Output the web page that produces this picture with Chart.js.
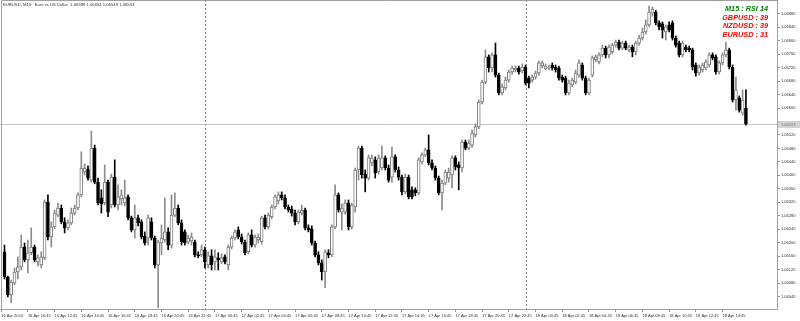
<!DOCTYPE html>
<html lang="en">
<head>
<meta charset="UTF-8">
<title>EURUSD, M15</title>
<script src="https://cdn.jsdelivr.net/npm/chart.js"></script>
<style>
  html, body { margin: 0; padding: 0; background: #fff; }
  #wrap { width: 800px; height: 321px; }
</style>
</head>
<body>
<div id="wrap"><canvas id="chartCandles" width="800" height="321"></canvas></div>
<script>
// M15 bars, 16 Apr 09:00 .. 18 Apr 16:30
const opens = [
  1.06173,1.06098,1.06045,1.06080,1.06113,1.06128,1.06187,1.06149,1.06170,1.06187,
  1.06143,1.06134,1.06155,1.06321,1.06217,1.06247,1.06282,1.06303,1.06262,1.06244,
  1.06259,1.06288,1.06303,1.06342,1.06410,1.06419,1.06386,1.06481,1.06380,1.06333,
  1.06318,1.06380,1.06312,1.06395,1.06312,1.06330,1.06318,1.06336,1.06274,1.06238,
  1.06274,1.06262,1.06220,1.06214,1.06262,1.06214,1.06134,1.06199,1.06208,1.06232,
  1.06193,1.06282,1.06303,1.06259,1.06232,1.06202,1.06205,1.06202,1.06164,1.06164,
  1.06179,1.06134,1.06161,1.06143,1.06155,1.06143,1.06158,1.06134,1.06187,1.06214,
  1.06238,1.06217,1.06202,1.06173,1.06223,1.06193,1.06208,1.06202,1.06274,1.06247,
  1.06277,1.06306,1.06324,1.06342,1.06333,1.06306,1.06300,1.06288,1.06262,1.06288,
  1.06297,1.06244,1.06241,1.06199,1.06164,1.06140,1.06113,1.06170,1.06164,1.06247,
  1.06342,1.06291,1.06291,1.06318,1.06247,1.06306,1.06416,1.06481,1.06404,1.06392,
  1.06437,1.06446,1.06410,1.06422,1.06452,1.06422,1.06395,1.06455,1.06416,1.06395,
  1.06351,1.06395,1.06357,1.06357,1.06348,1.06440,1.06461,1.06476,1.06437,1.06422,
  1.06392,1.06348,1.06377,1.06392,1.06401,1.06452,1.06431,1.06422,1.06499,1.06481,
  1.06490,1.06520,1.06544,1.06618,1.06677,1.06752,1.06719,1.06758,1.06698,1.06645,
  1.06660,1.06683,1.06707,1.06713,1.06719,1.06710,1.06722,1.06689,1.06683,1.06692,
  1.06704,1.06725,1.06716,1.06719,1.06728,1.06722,1.06719,1.06692,1.06689,1.06645,
  1.06669,1.06677,1.06698,1.06728,1.06689,1.06645,1.06698,1.06743,1.06737,1.06758,
  1.06778,1.06758,1.06767,1.06787,1.06796,1.06778,1.06793,1.06773,1.06781,1.06767,
  1.06793,1.06808,1.06826,1.06847,1.06882,1.06885,1.06853,1.06850,1.06826,1.06847,
  1.06853,1.06808,1.06793,1.06758,1.06781,1.06778,1.06773,1.06728,1.06704,1.06713,
  1.06719,1.06728,1.06758,1.06752,1.06707,1.06734,1.06758,1.06773,1.06722,1.06624,
  1.06630,1.06585,1.06599
];
const highs = [
  1.06193,1.06101,1.06089,1.06125,1.06158,1.06223,1.06199,1.06208,1.06244,1.06193,
  1.06164,1.06173,1.06327,1.06342,1.06262,1.06297,1.06318,1.06312,1.06274,1.06268,
  1.06303,1.06312,1.06348,1.06470,1.06434,1.06428,1.06532,1.06490,1.06392,1.06357,
  1.06431,1.06386,1.06404,1.06446,1.06372,1.06357,1.06386,1.06342,1.06279,1.06312,
  1.06282,1.06268,1.06232,1.06282,1.06274,1.06220,1.06208,1.06253,1.06333,1.06244,
  1.06342,1.06348,1.06312,1.06268,1.06238,1.06223,1.06229,1.06208,1.06173,1.06193,
  1.06187,1.06173,1.06179,1.06179,1.06170,1.06167,1.06164,1.06193,1.06220,1.06238,
  1.06247,1.06226,1.06208,1.06229,1.06238,1.06223,1.06226,1.06279,1.06282,1.06288,
  1.06312,1.06342,1.06351,1.06351,1.06342,1.06312,1.06309,1.06297,1.06297,1.06312,
  1.06303,1.06253,1.06250,1.06205,1.06173,1.06149,1.06179,1.06179,1.06253,1.06372,
  1.06348,1.06315,1.06327,1.06327,1.06318,1.06422,1.06487,1.06487,1.06416,1.06461,
  1.06461,1.06455,1.06461,1.06487,1.06458,1.06431,1.06484,1.06461,1.06425,1.06401,
  1.06404,1.06401,1.06366,1.06363,1.06452,1.06467,1.06481,1.06520,1.06446,1.06428,
  1.06398,1.06386,1.06416,1.06422,1.06458,1.06458,1.06440,1.06505,1.06505,1.06505,
  1.06535,1.06553,1.06624,1.06683,1.06773,1.06758,1.06764,1.06793,1.06704,1.06672,
  1.06692,1.06713,1.06725,1.06725,1.06725,1.06731,1.06728,1.06695,1.06698,1.06710,
  1.06740,1.06740,1.06731,1.06728,1.06734,1.06728,1.06725,1.06698,1.06695,1.06683,
  1.06689,1.06713,1.06743,1.06734,1.06695,1.06689,1.06755,1.06758,1.06764,1.06787,
  1.06784,1.06787,1.06793,1.06802,1.06802,1.06799,1.06799,1.06787,1.06787,1.06799,
  1.06817,1.06838,1.06862,1.06903,1.06900,1.06891,1.06859,1.06856,1.06847,1.06856,
  1.06859,1.06814,1.06799,1.06799,1.06787,1.06784,1.06778,1.06734,1.06728,1.06734,
  1.06743,1.06764,1.06764,1.06758,1.06740,1.06764,1.06796,1.06778,1.06728,1.06692,
  1.06636,1.06654,1.06654
];
const lows = [
  1.06092,1.06039,1.06021,1.06075,1.06092,1.06119,1.06143,1.06110,1.06164,1.06143,
  1.06131,1.06125,1.06149,1.06208,1.06187,1.06241,1.06277,1.06256,1.06229,1.06238,
  1.06253,1.06282,1.06297,1.06336,1.06401,1.06386,1.06380,1.06375,1.06312,1.06288,
  1.06312,1.06277,1.06303,1.06306,1.06297,1.06312,1.06309,1.06268,1.06232,1.06214,
  1.06250,1.06211,1.06193,1.06193,1.06208,1.06125,1.06006,1.06164,1.06202,1.06179,
  1.06184,1.06277,1.06253,1.06193,1.06193,1.06196,1.06193,1.06158,1.06155,1.06158,
  1.06125,1.06125,1.06119,1.06119,1.06119,1.06137,1.06137,1.06119,1.06181,1.06208,
  1.06211,1.06196,1.06164,1.06167,1.06187,1.06187,1.06199,1.06196,1.06241,1.06241,
  1.06271,1.06300,1.06315,1.06327,1.06300,1.06291,1.06279,1.06253,1.06256,1.06282,
  1.06238,1.06232,1.06193,1.06158,1.06134,1.06089,1.06066,1.06155,1.06158,1.06241,
  1.06291,1.06238,1.06285,1.06238,1.06241,1.06291,1.06386,1.06392,1.06351,1.06386,
  1.06428,1.06392,1.06404,1.06416,1.06416,1.06380,1.06380,1.06410,1.06386,1.06342,
  1.06345,1.06330,1.06330,1.06339,1.06342,1.06434,1.06455,1.06431,1.06416,1.06386,
  1.06342,1.06297,1.06372,1.06380,1.06363,1.06416,1.06357,1.06410,1.06476,1.06476,
  1.06484,1.06514,1.06538,1.06612,1.06672,1.06707,1.06707,1.06692,1.06639,1.06639,
  1.06654,1.06677,1.06701,1.06707,1.06701,1.06704,1.06669,1.06660,1.06677,1.06686,
  1.06698,1.06719,1.06713,1.06713,1.06713,1.06707,1.06683,1.06677,1.06639,1.06639,
  1.06663,1.06672,1.06692,1.06683,1.06639,1.06639,1.06692,1.06737,1.06731,1.06752,
  1.06749,1.06749,1.06761,1.06781,1.06773,1.06773,1.06773,1.06767,1.06752,1.06758,
  1.06787,1.06802,1.06820,1.06841,1.06873,1.06847,1.06832,1.06808,1.06802,1.06826,
  1.06802,1.06781,1.06752,1.06752,1.06767,1.06767,1.06713,1.06695,1.06698,1.06707,
  1.06713,1.06722,1.06743,1.06701,1.06701,1.06728,1.06752,1.06716,1.06618,1.06594,
  1.06588,1.06579,1.06549
];
const closes = [
  1.06098,1.06045,1.06083,1.06113,1.06128,1.06187,1.06149,1.06170,1.06187,1.06149,
  1.06155,1.06158,1.06321,1.06217,1.06247,1.06288,1.06303,1.06262,1.06244,1.06259,
  1.06288,1.06303,1.06342,1.06422,1.06422,1.06392,1.06481,1.06380,1.06318,1.06315,
  1.06380,1.06291,1.06395,1.06312,1.06336,1.06342,1.06333,1.06274,1.06238,1.06274,
  1.06259,1.06217,1.06199,1.06274,1.06214,1.06134,1.06202,1.06214,1.06232,1.06193,
  1.06282,1.06303,1.06259,1.06202,1.06199,1.06214,1.06217,1.06164,1.06161,1.06179,
  1.06143,1.06161,1.06134,1.06158,1.06149,1.06155,1.06143,1.06187,1.06214,1.06232,
  1.06217,1.06202,1.06170,1.06223,1.06193,1.06217,1.06217,1.06274,1.06247,1.06282,
  1.06306,1.06336,1.06342,1.06333,1.06306,1.06297,1.06288,1.06262,1.06291,1.06297,
  1.06244,1.06238,1.06199,1.06164,1.06140,1.06113,1.06173,1.06164,1.06247,1.06342,
  1.06297,1.06303,1.06318,1.06247,1.06312,1.06416,1.06481,1.06401,1.06392,1.06452,
  1.06452,1.06407,1.06452,1.06452,1.06422,1.06386,1.06455,1.06416,1.06395,1.06351,
  1.06395,1.06336,1.06336,1.06348,1.06446,1.06461,1.06476,1.06437,1.06422,1.06392,
  1.06348,1.06377,1.06410,1.06410,1.06452,1.06425,1.06422,1.06499,1.06481,1.06496,
  1.06526,1.06544,1.06618,1.06677,1.06752,1.06719,1.06758,1.06698,1.06645,1.06663,
  1.06683,1.06707,1.06719,1.06719,1.06707,1.06722,1.06674,1.06674,1.06692,1.06704,
  1.06734,1.06734,1.06725,1.06722,1.06719,1.06713,1.06689,1.06683,1.06645,1.06674,
  1.06683,1.06704,1.06734,1.06689,1.06645,1.06683,1.06749,1.06752,1.06758,1.06778,
  1.06758,1.06781,1.06787,1.06796,1.06778,1.06793,1.06778,1.06781,1.06767,1.06793,
  1.06808,1.06826,1.06847,1.06885,1.06894,1.06853,1.06841,1.06832,1.06841,1.06832,
  1.06808,1.06787,1.06758,1.06793,1.06773,1.06773,1.06722,1.06704,1.06722,1.06728,
  1.06737,1.06758,1.06749,1.06707,1.06734,1.06758,1.06773,1.06722,1.06624,1.06654,
  1.06594,1.06624,1.06553
];

// bar index of each midnight (day separators)
const daySeparators = [60, 156];

// time axis labels and the bar index they sit on
const xTickBars = [-1, 7, 15, 23, 31, 39, 47, 55, 63, 71, 79, 87, 95, 103,
                   111, 119, 127, 135, 143, 151, 159, 167, 175, 183, 191, 199, 207, 215];
const xTickLabels = ["16 Apr 2024", "16 Apr 10:45", "16 Apr 12:45", "16 Apr 14:45", "16 Apr 16:45",
  "16 Apr 18:45", "16 Apr 20:45", "16 Apr 22:45", "17 Apr 00:45", "17 Apr 02:45", "17 Apr 04:45",
  "17 Apr 06:45", "17 Apr 08:45", "17 Apr 10:45", "17 Apr 12:45", "17 Apr 14:45", "17 Apr 16:45",
  "17 Apr 18:45", "17 Apr 20:45", "17 Apr 22:45", "18 Apr 00:45", "18 Apr 02:45", "18 Apr 04:45",
  "18 Apr 06:45", "18 Apr 08:45", "18 Apr 10:45", "18 Apr 12:45", "18 Apr 14:45"];

// price axis labels (1.06560 is covered by the bid tag)
const yTicks = [1.06040, 1.06080, 1.06120, 1.06160, 1.06200, 1.06240, 1.06280, 1.06320, 1.06360,
  1.06400, 1.06440, 1.06480, 1.06520, 1.06600, 1.06640, 1.06680, 1.06720, 1.06760, 1.06800,
  1.06840, 1.06880];

const symbolName = "EURUSD";
const timeframe = "M15";
const symbolDesc = "Euro vs US Dollar";

const rsiTitle = "M15 : RSI 14";
const rsiPairs = ["GBPUSD", "NZDUSD", "EURUSD"];
const rsiValues = [39, 39, 31];

const lastBar = closes.length - 1;
const lastPrice = closes[lastBar];
const fmt = v => v.toFixed(5);

const isBull = closes.map((c, i) => c >= opens[i]);

const mt4Overlay = {
  id: 'mt4Overlay',
  beforeDatasetsDraw(chart) {
    const { ctx, chartArea: a, scales: { x, y } } = chart;
    ctx.save();
    ctx.lineWidth = 1;
    ctx.strokeStyle = '#808080';
    ctx.setLineDash([2, 2]);
    daySeparators.forEach(i => {
      const px = Math.round(x.getPixelForValue(i)) + 0.5;
      ctx.beginPath();
      ctx.moveTo(px, a.top);
      ctx.lineTo(px, a.bottom);
      ctx.stroke();
    });
    ctx.setLineDash([]);
    // bid line
    const py = Math.round(y.getPixelForValue(lastPrice)) + 0.5;
    ctx.strokeStyle = '#c4c4c4';
    ctx.beginPath();
    ctx.moveTo(a.left, py);
    ctx.lineTo(a.right, py);
    ctx.stroke();
    ctx.restore();
  },
  afterDraw(chart) {
    const { ctx, chartArea: a, scales: { y } } = chart;
    ctx.save();
    // frame
    ctx.strokeStyle = '#a0a0a0';
    ctx.lineWidth = 1;
    ctx.beginPath();
    ctx.moveTo(a.left + 1.5, a.bottom);
    ctx.lineTo(a.left + 1.5, a.top + 0.5);
    ctx.lineTo(a.right, a.top + 0.5);
    ctx.stroke();

    // header line
    ctx.fillStyle = '#303030';
    ctx.font = '4.2px "Liberation Sans", Arial, sans-serif';
    ctx.textAlign = 'left';
    ctx.textBaseline = 'middle';
    ctx.fillText(`${symbolName}, ${timeframe}:  ${symbolDesc}  ${fmt(opens[lastBar])} ${fmt(highs[lastBar])} ${fmt(lows[lastBar])} ${fmt(closes[lastBar])}`, 3, 5);

    // RSI block
    ctx.font = 'italic bold 7.3px "Liberation Sans", Arial, sans-serif';
    ctx.textAlign = 'right';
    ctx.fillStyle = '#008000';
    ctx.fillText(rsiTitle, 768, 8.5);
    ctx.fillStyle = '#ff0000';
    rsiPairs.forEach((p, i) => {
      ctx.fillText(`${p} : ${rsiValues[i]}`, 768, 17.5 + i * 8.7);
    });

    // bid tag on the price axis
    const py = Math.round(y.getPixelForValue(lastPrice));
    ctx.fillStyle = '#d2d2d2';
    ctx.fillRect(a.right + 1, py - 3, 22, 7);
    ctx.fillStyle = '#7a7a7a';
    ctx.font = '4px "Liberation Sans", Arial, sans-serif';
    ctx.textAlign = 'left';
    ctx.fillText(fmt(lastPrice), a.right + 4, py + 0.5);
    ctx.restore();
  }
};

new Chart(document.getElementById('chartCandles').getContext('2d'), {
  type: 'bar',
  data: {
    datasets: [
      {
        label: 'wicks',
        data: closes.map((c, i) => ({ x: i, y: [lows[i], highs[i]] })),
        backgroundColor: isBull.map(b => b ? '#8c8c8c' : '#000000'),
        borderWidth: 0,
        barThickness: 1,
        grouped: false,
        order: 2
      },
      {
        label: 'bodies',
        data: closes.map((c, i) => ({ x: i, y: [opens[i], c] })),
        backgroundColor: isBull.map(b => b ? '#ffffff' : '#000000'),
        borderColor: isBull.map(b => b ? '#7a7a7a' : '#000000'),
        borderWidth: 1,
        borderSkipped: false,
        barThickness: 3,
        grouped: false,
        order: 1
      }
    ]
  },
  options: {
    responsive: false,
    animation: false,
    layout: { padding: 0 },
    plugins: {
      legend: { display: false },
      tooltip: { enabled: false }
    },
    scales: {
      x: {
        type: 'linear',
        min: -1.35,
        max: 231.3,
        offset: false,
        grid: { display: true, drawOnChartArea: false, tickLength: 3, color: '#909090', offset: false },
        border: { display: true, color: '#a0a0a0' },
        afterBuildTicks: scale => { scale.ticks = xTickBars.map(v => ({ value: v })); },
        afterFit: scale => { scale.height = 12; scale.paddingLeft = 0; scale.paddingRight = 0; },
        ticks: {
          autoSkip: false,
          maxRotation: 0,
          align: 'start',
          padding: 1,
          color: '#303030',
          font: { family: '"Liberation Sans", Arial, sans-serif', size: 4 },
          callback: (v, i) => xTickLabels[i]
        }
      },
      y: {
        type: 'linear',
        position: 'right',
        min: 1.06003,
        max: 1.06921,
        beginAtZero: false,
        grid: { display: true, drawOnChartArea: false, tickLength: 3, color: '#909090' },
        border: { display: true, color: '#a0a0a0' },
        afterBuildTicks: scale => { scale.ticks = yTicks.map(v => ({ value: v })); },
        afterFit: scale => { scale.width = 23; scale.paddingTop = 0; scale.paddingBottom = 0; },
        ticks: {
          autoSkip: false,
          padding: 1,
          color: '#303030',
          font: { family: '"Liberation Sans", Arial, sans-serif', size: 4 },
          callback: v => fmt(v)
        }
      }
    }
  },
  plugins: [mt4Overlay]
});
</script>
</body>
</html>
